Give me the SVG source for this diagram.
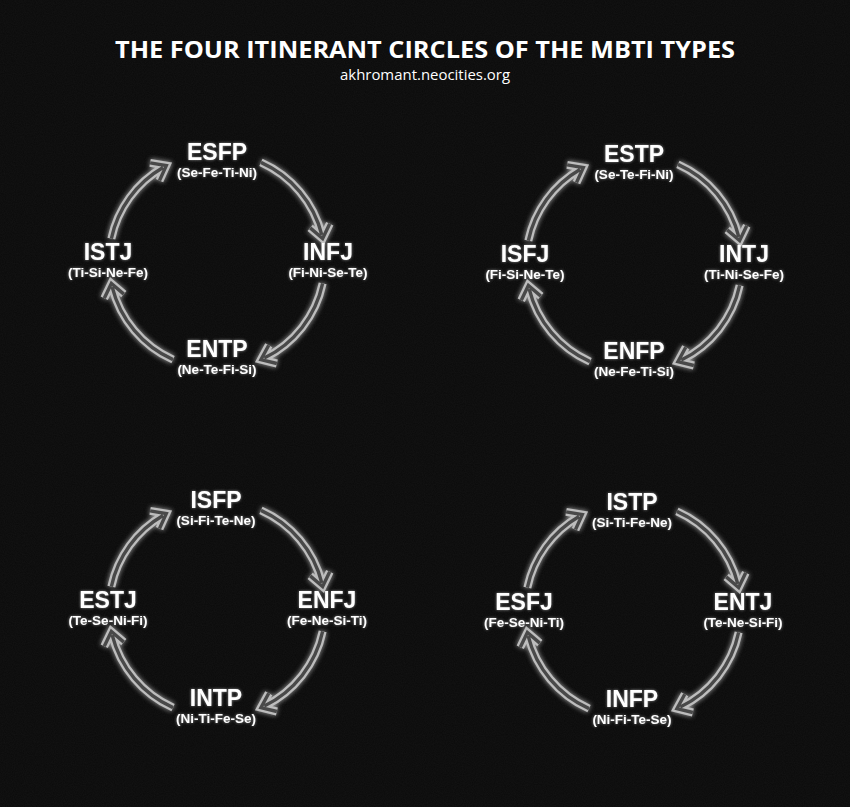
<svg xmlns="http://www.w3.org/2000/svg" xmlns:xlink="http://www.w3.org/1999/xlink" width="850" height="807" viewBox="0 0 850 807">
<style>
.bg{fill:#0a0a0a}
.title{font-family:"Open Sans","Liberation Sans",sans-serif;font-weight:bold;font-size:24px;fill:#ffffff;text-anchor:middle}
.sub-title{font-family:"Open Sans","Liberation Sans",sans-serif;font-size:14px;fill:#ffffff;text-anchor:middle}
.t{font-family:"Liberation Sans",Arial,sans-serif;font-weight:bold;font-size:23px;fill:#ffffff;text-anchor:middle}
.f{font-family:"Liberation Sans",Arial,sans-serif;font-weight:bold;font-size:13.5px;fill:#ffffff;text-anchor:middle}
.outer{fill:none;stroke:#bdbdbd;stroke-width:8;stroke-linejoin:miter;stroke-linecap:butt}
.inner{fill:none;stroke:#4a4a4a;stroke-width:3.4;stroke-linejoin:miter;stroke-linecap:butt}
</style>
<defs>
<filter id="glow" x="-30%" y="-30%" width="160%" height="160%">
<feGaussianBlur in="SourceGraphic" stdDeviation="2.5" result="b"/>
<feMerge><feMergeNode in="b"/><feMergeNode in="SourceGraphic"/></feMerge>
</filter>
<filter id="soft" x="-10%" y="-30%" width="120%" height="160%">
<feGaussianBlur in="SourceGraphic" stdDeviation="1.5" result="b"/>
<feComponentTransfer in="b" result="bf"><feFuncA type="linear" slope="0.5"/></feComponentTransfer>
<feMerge><feMergeNode in="bf"/><feMergeNode in="SourceGraphic"/></feMerge>
</filter>
<filter id="noise" x="0" y="0" width="100%" height="100%">
<feTurbulence type="fractalNoise" baseFrequency="0.9" numOctaves="2" seed="3" result="n"/>
<feColorMatrix in="n" type="matrix" values="0 0 0 0 1  0 0 0 0 1  0 0 0 0 1  0 0 0 0.04 0"/>
</filter>
<path id="arcs" d="M105.64,22.45 A108,108 0 0 1 47.34,97.07 M59.88,102.51 L43.93,98.66 L51.74,84.23 M-43.93,98.66 A108,108 0 0 1 -104.79,26.13 M-112.72,37.25 L-105.64,22.45 L-93.16,33.09 M-105.64,-22.45 A108,108 0 0 1 -54,-93.53 M-66.88,-98.09 L-50.70,-95.36 L-57.48,-80.43 M43.93,-98.66 A108,108 0 0 1 104.79,-26.13 M112.72,-37.25 L105.64,-22.45 L93.16,-33.09"/>
<g id="ring">
<use xlink:href="#arcs" class="outer"/>
<use xlink:href="#arcs" class="inner"/>
</g>
</defs>
<rect class="bg" x="0" y="0" width="850" height="807"/>
<rect x="0" y="0" width="850" height="807" filter="url(#noise)"/>
<g id="header">
<text class="title" x="425" y="58" textLength="620" lengthAdjust="spacingAndGlyphs">THE FOUR ITINERANT CIRCLES OF THE MBTI TYPES</text>
<text class="sub-title" x="425" y="80" textLength="170" lengthAdjust="spacingAndGlyphs">akhromant.neocities.org</text>
</g>
<g id="connectors" filter="url(#glow)">
<use xlink:href="#ring" transform="translate(217,261)"/>
<use xlink:href="#ring" transform="translate(634,263)"/>
<use xlink:href="#ring" transform="translate(217,609)"/>
<use xlink:href="#ring" transform="translate(633,610)"/>
</g>
<g id="nodes" filter="url(#soft)">
<g id="node-esfp"><text class="t" x="217" y="160">ESFP</text><text class="f" x="217" y="177">(Se-Fe-Ti-Ni)</text></g>
<g id="node-istj"><text class="t" x="108" y="260">ISTJ</text><text class="f" x="108" y="277">(Ti-Si-Ne-Fe)</text></g>
<g id="node-infj"><text class="t" x="328" y="260">INFJ</text><text class="f" x="328" y="277">(Fi-Ni-Se-Te)</text></g>
<g id="node-entp"><text class="t" x="217" y="357">ENTP</text><text class="f" x="217" y="374">(Ne-Te-Fi-Si)</text></g>
<g id="node-estp"><text class="t" x="634" y="162">ESTP</text><text class="f" x="634" y="179">(Se-Te-Fi-Ni)</text></g>
<g id="node-isfj"><text class="t" x="525" y="262">ISFJ</text><text class="f" x="525" y="279">(Fi-Si-Ne-Te)</text></g>
<g id="node-intj"><text class="t" x="744" y="262">INTJ</text><text class="f" x="744" y="279">(Ti-Ni-Se-Fe)</text></g>
<g id="node-enfp"><text class="t" x="634" y="359">ENFP</text><text class="f" x="634" y="376">(Ne-Fe-Ti-Si)</text></g>
<g id="node-isfp"><text class="t" x="216" y="508">ISFP</text><text class="f" x="216" y="525">(Si-Fi-Te-Ne)</text></g>
<g id="node-estj"><text class="t" x="108" y="608">ESTJ</text><text class="f" x="108" y="625">(Te-Se-Ni-Fi)</text></g>
<g id="node-enfj"><text class="t" x="327" y="608">ENFJ</text><text class="f" x="327" y="625">(Fe-Ne-Si-Ti)</text></g>
<g id="node-intp"><text class="t" x="216" y="706">INTP</text><text class="f" x="216" y="723">(Ni-Ti-Fe-Se)</text></g>
<g id="node-istp"><text class="t" x="632" y="510">ISTP</text><text class="f" x="632" y="527">(Si-Ti-Fe-Ne)</text></g>
<g id="node-esfj"><text class="t" x="524" y="610">ESFJ</text><text class="f" x="524" y="627">(Fe-Se-Ni-Ti)</text></g>
<g id="node-entj"><text class="t" x="743" y="610">ENTJ</text><text class="f" x="743" y="627">(Te-Ne-Si-Fi)</text></g>
<g id="node-infp"><text class="t" x="632" y="707">INFP</text><text class="f" x="632" y="724">(Ni-Fi-Te-Se)</text></g>
</g>
</svg>
